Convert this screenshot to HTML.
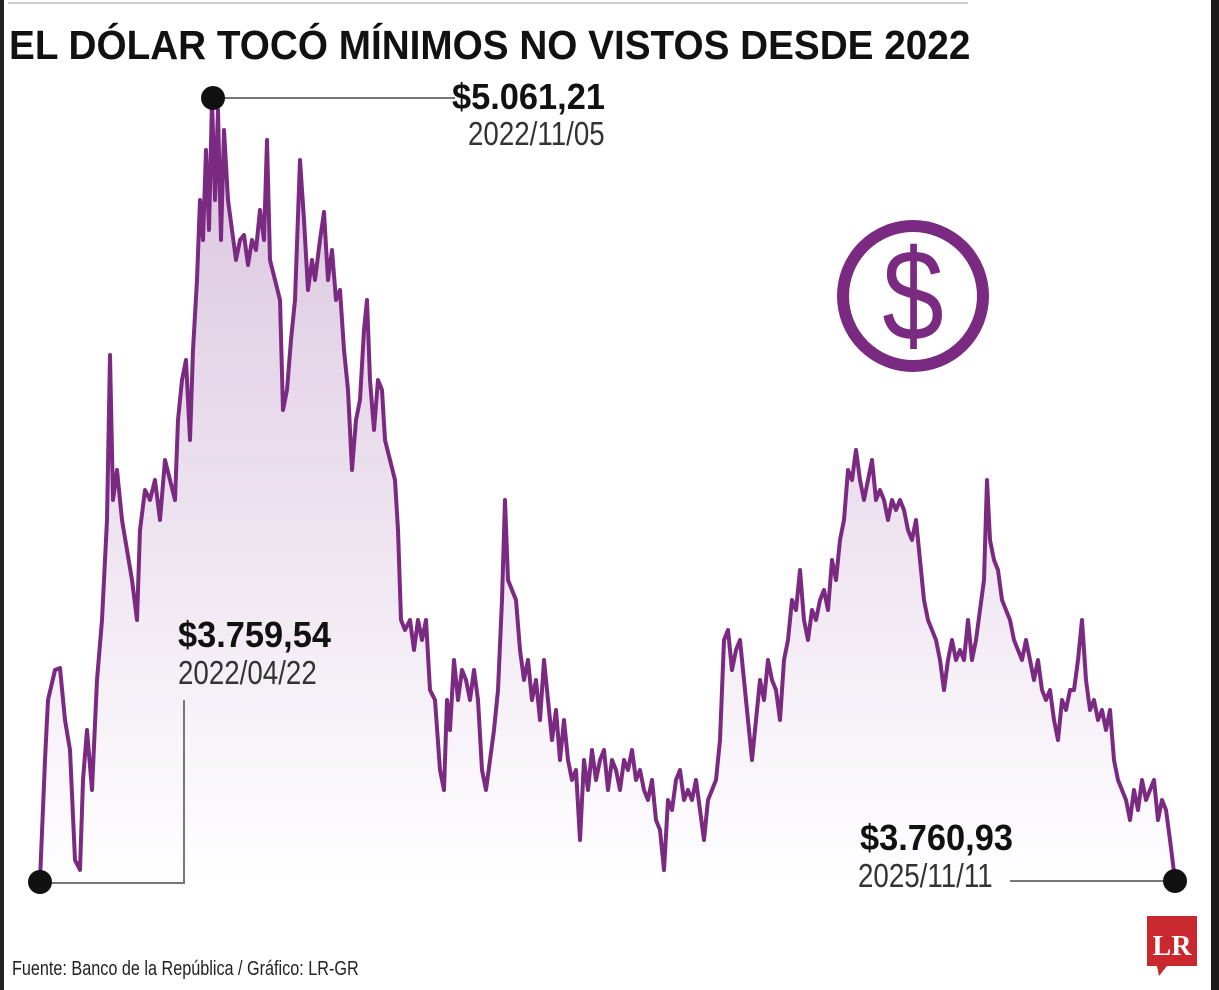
<!DOCTYPE html><html><head><meta charset="utf-8"><style>
body{margin:0;background:#fff;width:1219px;height:990px;overflow:hidden;position:relative;font-family:"Liberation Sans",sans-serif}
.t{position:absolute;white-space:nowrap;transform-origin:0 0}
</style></head><body>
<div style="position:absolute;left:0;top:0;width:4px;height:990px;background:#222"></div>
<div style="position:absolute;right:0;top:0;width:8px;height:990px;background:#1a1a1a"></div>
<div style="position:absolute;left:8px;top:2px;width:960px;height:2px;background:#ccc"></div>
<div class="t" style="left:9px;top:22px;font-size:41px;font-weight:bold;color:#111;transform:scaleX(0.944)">EL DÓLAR TOCÓ MÍNIMOS NO VISTOS DESDE 2022</div>
<svg width="1219" height="990" style="position:absolute;left:0;top:0">
<defs><linearGradient id="g" x1="0" y1="0" x2="0" y2="1"><stop offset="0" stop-color="#d9c3de"/><stop offset="1" stop-color="#fff"/></linearGradient></defs>
<polygon fill="url(#g)" points="40,885 40,880 45,760 48,700 55,670 60,668 65,720 70,750 75,860 80,870 83,780 87,730 92,790 97,680 102,620 107,520 110,355 113,500 117,470 122,520 127,550 132,580 137,620 140,530 145,490 150,500 155,480 160,520 165,460 170,480 175,500 178,420 182,380 186,360 190,440 193,350 197,280 200,200 203,240 206,150 209,230 212,100 215,200 218,110 221,240 224,130 228,200 232,230 236,260 240,240 244,235 248,265 252,240 256,250 260,210 264,240 267,140 270,260 275,280 280,300 283,410 287,390 291,340 295,300 300,160 304,220 308,290 312,260 315,280 320,240 324,212 328,280 332,250 336,300 340,290 344,350 348,390 352,470 356,420 360,400 364,330 367,300 370,380 374,430 378,380 382,390 385,440 390,460 395,480 398,530 401,620 405,630 410,620 414,650 418,620 422,640 426,620 430,690 435,700 440,770 444,790 447,700 450,730 454,660 458,700 462,670 466,680 470,700 474,670 478,700 482,770 486,790 490,760 494,730 498,690 502,600 505,500 508,580 512,590 516,600 520,650 524,680 528,660 532,700 536,680 540,720 544,660 548,700 552,740 556,710 560,760 564,720 568,760 572,780 576,770 580,840 584,760 588,790 592,750 596,780 600,760 604,750 608,790 612,760 616,770 620,790 624,760 628,770 632,750 636,780 640,770 644,790 648,800 652,780 656,820 660,830 664,870 668,800 672,810 676,780 680,770 684,800 688,790 692,800 696,780 700,810 704,840 708,800 712,790 716,780 720,740 724,640 728,630 732,670 736,650 740,640 744,680 748,720 752,760 756,720 760,680 764,700 768,660 772,680 776,690 780,720 784,660 788,640 792,600 796,610 800,570 804,620 808,640 812,610 816,620 820,600 824,590 828,610 832,560 836,580 840,540 844,520 848,470 852,480 856,450 860,480 864,500 868,480 872,460 876,500 880,490 884,500 888,520 892,500 896,510 900,500 904,510 908,530 912,540 916,520 920,560 924,600 928,620 932,630 936,640 940,660 944,690 948,660 952,640 956,660 960,650 964,660 968,620 972,660 976,640 980,610 984,580 987,480 990,540 994,560 998,570 1002,600 1006,610 1010,620 1014,640 1018,650 1022,660 1026,640 1030,660 1034,680 1038,660 1042,690 1046,700 1050,690 1054,720 1058,740 1062,700 1066,710 1070,690 1074,690 1078,660 1082,620 1086,680 1090,710 1094,700 1098,720 1102,710 1106,730 1110,710 1114,760 1118,780 1122,790 1126,800 1130,820 1134,790 1138,810 1142,780 1146,800 1150,790 1154,780 1158,820 1162,800 1166,810 1170,840 1175,880 1175,885"/>
<polyline fill="none" stroke="#7b2a82" stroke-width="4" stroke-linejoin="round" points="40,880 45,760 48,700 55,670 60,668 65,720 70,750 75,860 80,870 83,780 87,730 92,790 97,680 102,620 107,520 110,355 113,500 117,470 122,520 127,550 132,580 137,620 140,530 145,490 150,500 155,480 160,520 165,460 170,480 175,500 178,420 182,380 186,360 190,440 193,350 197,280 200,200 203,240 206,150 209,230 212,100 215,200 218,110 221,240 224,130 228,200 232,230 236,260 240,240 244,235 248,265 252,240 256,250 260,210 264,240 267,140 270,260 275,280 280,300 283,410 287,390 291,340 295,300 300,160 304,220 308,290 312,260 315,280 320,240 324,212 328,280 332,250 336,300 340,290 344,350 348,390 352,470 356,420 360,400 364,330 367,300 370,380 374,430 378,380 382,390 385,440 390,460 395,480 398,530 401,620 405,630 410,620 414,650 418,620 422,640 426,620 430,690 435,700 440,770 444,790 447,700 450,730 454,660 458,700 462,670 466,680 470,700 474,670 478,700 482,770 486,790 490,760 494,730 498,690 502,600 505,500 508,580 512,590 516,600 520,650 524,680 528,660 532,700 536,680 540,720 544,660 548,700 552,740 556,710 560,760 564,720 568,760 572,780 576,770 580,840 584,760 588,790 592,750 596,780 600,760 604,750 608,790 612,760 616,770 620,790 624,760 628,770 632,750 636,780 640,770 644,790 648,800 652,780 656,820 660,830 664,870 668,800 672,810 676,780 680,770 684,800 688,790 692,800 696,780 700,810 704,840 708,800 712,790 716,780 720,740 724,640 728,630 732,670 736,650 740,640 744,680 748,720 752,760 756,720 760,680 764,700 768,660 772,680 776,690 780,720 784,660 788,640 792,600 796,610 800,570 804,620 808,640 812,610 816,620 820,600 824,590 828,610 832,560 836,580 840,540 844,520 848,470 852,480 856,450 860,480 864,500 868,480 872,460 876,500 880,490 884,500 888,520 892,500 896,510 900,500 904,510 908,530 912,540 916,520 920,560 924,600 928,620 932,630 936,640 940,660 944,690 948,660 952,640 956,660 960,650 964,660 968,620 972,660 976,640 980,610 984,580 987,480 990,540 994,560 998,570 1002,600 1006,610 1010,620 1014,640 1018,650 1022,660 1026,640 1030,660 1034,680 1038,660 1042,690 1046,700 1050,690 1054,720 1058,740 1062,700 1066,710 1070,690 1074,690 1078,660 1082,620 1086,680 1090,710 1094,700 1098,720 1102,710 1106,730 1110,710 1114,760 1118,780 1122,790 1126,800 1130,820 1134,790 1138,810 1142,780 1146,800 1150,790 1154,780 1158,820 1162,800 1166,810 1170,840 1175,880"/>
<line x1="213" y1="98" x2="455" y2="98" stroke="#777" stroke-width="2"/>
<polyline points="40,883 184,883 184,700" fill="none" stroke="#777" stroke-width="2"/>
<line x1="1010" y1="881" x2="1175" y2="881" stroke="#777" stroke-width="2"/>
<circle cx="213" cy="98" r="12" fill="#111"/>
<circle cx="40" cy="882" r="12" fill="#111"/>
<circle cx="1175" cy="881" r="12" fill="#111"/>
<circle cx="913" cy="296" r="70" fill="none" stroke="#7b2a82" stroke-width="12"/>
<text x="913" y="340" text-anchor="middle" font-family="Liberation Sans" font-size="130" fill="#7b2a82" transform="translate(913 0) scale(0.85 1) translate(-913 0)">$</text>
<path d="M1147 916h50v50h-30l-8 10-2-10h-10z" fill="#c8282e"/>
<text x="1172" y="955" text-anchor="middle" font-family="Liberation Serif" font-weight="bold" font-size="28" fill="#fff">LR</text>
</svg>
<div class="t" style="left:452px;top:76px;font-size:36px;font-weight:bold;color:#111;transform:scaleX(0.955)">$5.061,21</div>
<div class="t" style="left:468px;top:115px;font-size:33px;color:#333;transform:scaleX(0.84)">2022/11/05</div>
<div class="t" style="left:178px;top:614px;font-size:36px;font-weight:bold;color:#111;transform:scaleX(0.955)">$3.759,54</div>
<div class="t" style="left:178px;top:654px;font-size:33px;color:#333;transform:scaleX(0.84)">2022/04/22</div>
<div class="t" style="left:860px;top:817px;font-size:36px;font-weight:bold;color:#111;transform:scaleX(0.955)">$3.760,93</div>
<div class="t" style="left:858px;top:857px;font-size:33px;color:#333;transform:scaleX(0.84)">2025/11/11</div>
<div class="t" style="left:12px;top:958px;font-size:20px;color:#222;transform:scaleX(0.81)">Fuente: Banco de la República / Gráfico: LR-GR</div>
</body></html>
